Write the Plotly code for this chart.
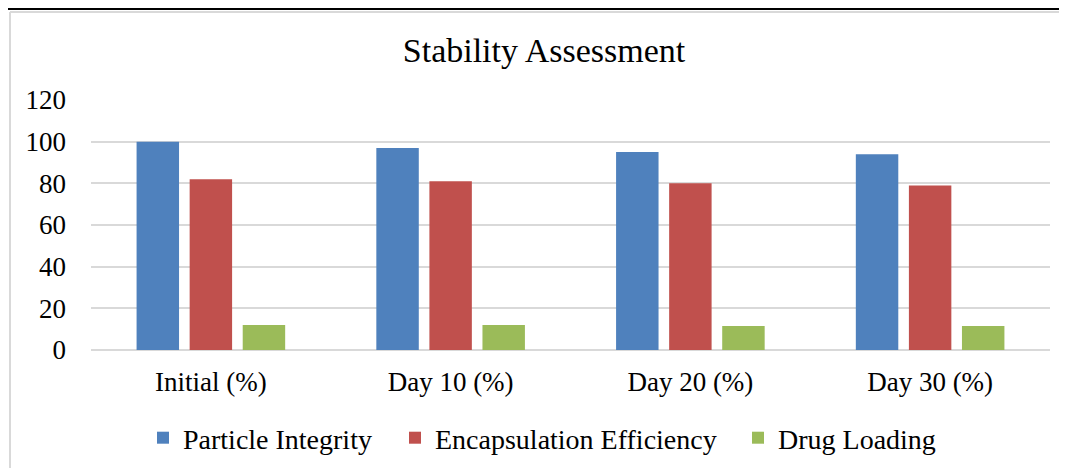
import plotly.graph_objects as go

# datos
categories = ["Initial (%)", "Day 10 (%)", "Day 20 (%)", "Day 30 (%)"]
particle_integrity = [100, 97, 95, 94]
encapsulation_eff = [82, 81, 80, 79]
drug_loading = [12, 12, 11.5, 11.5]

series = [
    ("Particle Integrity", particle_integrity, "#4F81BD"),
    ("Encapsulation Efficiency", encapsulation_eff, "#C0504D"),
    ("Drug Loading", drug_loading, "#9BBB59"),
]

# la pagina tiene 8px de margen en el body -> figura algo menor
OFF = 8
W, H = 1067 - OFF, 468 - OFF
L, R, T, B = 91 - OFF, 17, 100 - OFF, 118
pw, ph = W - L - R, H - T - B


def px(x):
    # x en pixeles de la ventana -> paper
    return (x - OFF - L) / pw


def py(y):
    return (H - B - (y - OFF)) / ph


fig = go.Figure()
legend_ids = ["legend", "legend2", "legend3"]
for (name, vals, color), lg in zip(series, legend_ids):
    fig.add_trace(go.Bar(
        x=categories, y=vals, name=name, legend=lg,
        marker=dict(color=color, line=dict(width=0)),
    ))

# bordes: final de la tabla de arriba y marco gris del grafico
shapes = [
    dict(type="line", xref="paper", yref="paper",
         x0=px(OFF), x1=px(1067), y0=py(OFF + 1), y1=py(OFF + 1),
         line=dict(color="black", width=2)),
    dict(type="line", xref="paper", yref="paper",
         x0=px(OFF + 2), x1=px(1067), y0=py(OFF + 4), y1=py(OFF + 4),
         line=dict(color="#D9D9D9", width=2)),
    dict(type="line", xref="paper", yref="paper",
         x0=px(OFF + 2), x1=px(OFF + 2), y0=py(OFF + 4), y1=py(468),
         line=dict(color="#D9D9D9", width=2)),
]


def legend_at(xwin):
    return dict(orientation="h", x=px(xwin), xanchor="left",
                y=py(438), yanchor="middle", font=dict(size=28),
                bgcolor="rgba(0,0,0,0)")


fig.update_layout(
    width=W, height=H,
    margin=dict(l=L, r=R, t=T, b=B, autoexpand=False),
    paper_bgcolor="white", plot_bgcolor="white",
    font=dict(family="Liberation Serif", color="black", size=27),
    title=dict(text="Stability Assessment", x=px(544), xanchor="center",
               xref="paper", y=1 - (50 - OFF) / H, yanchor="middle",
               font=dict(size=34, family="Liberation Serif", color="black")),
    barmode="group", bargap=0.336, bargroupgap=0.2,
    xaxis=dict(showline=False, ticks="", tickfont=dict(size=27),
               showgrid=False, automargin=False, ticklabelstandoff=13),
    yaxis=dict(range=[0, 120], dtick=20, showgrid=True, gridcolor="#D9D9D9",
               gridwidth=2, zeroline=True, zerolinecolor="#D9D9D9",
               zerolinewidth=2, ticks="", tickfont=dict(size=27),
               ticklabelstandoff=24, automargin=False),
    legend=legend_at(143),
    legend2=legend_at(395),
    legend3=legend_at(738),
    shapes=shapes,
    showlegend=True,
)

fig.write_html("out.html")
